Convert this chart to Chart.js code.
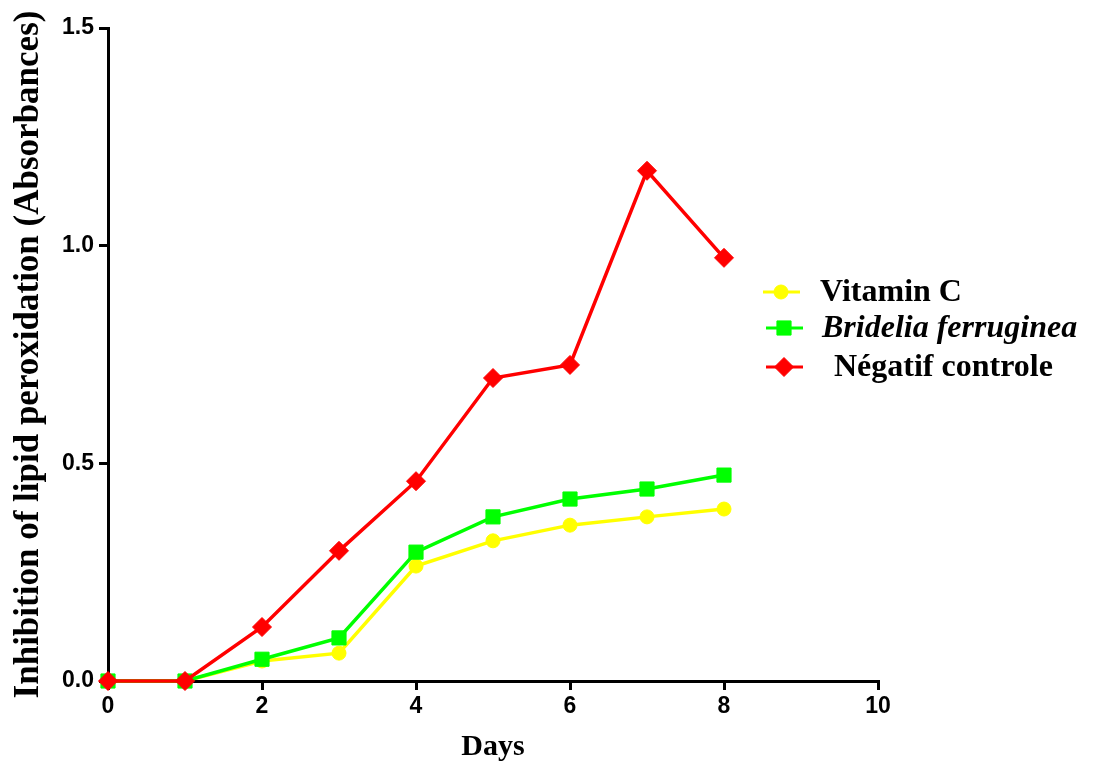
<!DOCTYPE html>
<html>
<head>
<meta charset="utf-8">
<script src="https://cdn.jsdelivr.net/npm/chart.js@4"></script>
<style>
  html, body { margin: 0; padding: 0; background: #fff; }
  #wrap { width: 1100px; height: 765px; }
</style>
</head>
<body>
<div id="wrap"><canvas id="c" width="1100" height="765"></canvas></div>
<script>
const days = [0, 1, 2, 3, 4, 5, 6, 7, 8];
const vitaminC = [0, 0, 0.046, 0.064, 0.264, 0.322, 0.358, 0.377, 0.395];
const bridelia = [0, 0, 0.05, 0.099, 0.296, 0.377, 0.418, 0.441, 0.473];
const negatif = [0, 0, 0.124, 0.299, 0.459, 0.696, 0.726, 1.172, 0.972];
const seriesNames = ['Vitamin C', 'Bridelia ferruginea', ' Négatif controle'];
const xTicks = [0, 2, 4, 6, 8, 10];
const yTicks = [0, 0.5, 1.0, 1.5];

function pts(arr) {
    return arr.map((v, i) => ({ x: days[i], y: v }));
}

// legend drawn by hand, it sits over the right side of the plot
const sideLegend = {
    id: 'sideLegend',
    afterDraw(chart) {
        const ctx = chart.ctx;
        const rows = [
            { y: 292, x0: 763, tx: 820, color: '#FFFF00', style: 'circle', r: 7, font: 'bold 32px "Liberation Serif"' },
            { y: 328, x0: 766, tx: 822, color: '#00FF00', style: 'rect', r: 10, font: 'italic bold 32px "Liberation Serif"' },
            { y: 367, x0: 766, tx: 826, color: '#FF0000', style: 'rectRot', r: 9.5, font: 'bold 32px "Liberation Serif"' }
        ];
        rows.forEach((r, i) => {
            ctx.save();
            ctx.strokeStyle = r.color;
            ctx.lineWidth = 3;
            ctx.beginPath();
            ctx.moveTo(r.x0, r.y);
            ctx.lineTo(r.x0 + 37, r.y);
            ctx.stroke();
            ctx.fillStyle = r.color;
            ctx.lineWidth = 1;
            Chart.helpers.drawPoint(ctx, { pointStyle: r.style, radius: r.r, borderWidth: 1 }, r.x0 + 18, r.y);
            ctx.fillStyle = '#000';
            ctx.font = r.font;
            ctx.textBaseline = 'middle';
            ctx.fillText(seriesNames[i], r.tx, r.y + 1);
            ctx.restore();
        });
    }
};

const tickFont = { family: 'Liberation Sans', weight: 'bold', size: 23 };

new Chart(document.getElementById('c'), {
    type: 'line',
    data: {
        datasets: [
            {
                label: seriesNames[2],
                data: pts(negatif),
                borderColor: '#FF0000',
                backgroundColor: '#FF0000',
                pointStyle: 'rectRot',
                pointRadius: 9.5,
                order: 0
            },
            {
                label: seriesNames[1],
                data: pts(bridelia),
                borderColor: '#00FF00',
                backgroundColor: '#00FF00',
                pointStyle: 'rect',
                pointRadius: 10,
                order: 1
            },
            {
                label: seriesNames[0],
                data: pts(vitaminC),
                borderColor: '#FFFF00',
                backgroundColor: '#FFFF00',
                pointStyle: 'circle',
                pointRadius: 7,
                order: 2
            }
        ]
    },
    options: {
        responsive: false,
        animation: false,
        clip: false,
        elements: {
            line: { borderWidth: 3.5, tension: 0 },
            point: { borderWidth: 1 }
        },
        layout: { padding: { left: 0, right: 222, top: 28, bottom: 0 } },
        plugins: {
            legend: { display: false },
            tooltip: { enabled: false }
        },
        scales: {
            x: {
                type: 'linear',
                min: 0,
                max: 10,
                afterFit(s) { s.height = 84; },
                afterBuildTicks(s) { s.ticks = xTicks.map(v => ({ value: v })); },
                border: { color: '#000', width: 3 },
                grid: { drawOnChartArea: false, color: '#000', tickLength: 9, lineWidth: 3 },
                ticks: {
                    color: '#000',
                    padding: 3,
                    font: tickFont
                },
                title: {
                    display: true,
                    text: 'Days',
                    color: '#000',
                    padding: { top: 6, bottom: 0 },
                    font: { family: 'Liberation Serif', weight: 'bold', size: 30 }
                }
            },
            y: {
                min: 0,
                max: 1.5,
                afterFit(s) { s.width = 108; },
                afterBuildTicks(s) { s.ticks = yTicks.map(v => ({ value: v })); },
                border: { color: '#000', width: 3 },
                grid: { drawOnChartArea: false, color: '#000', tickLength: 9, lineWidth: 3 },
                ticks: {
                    color: '#000',
                    padding: 5,
                    callback: v => v.toFixed(1),
                    font: tickFont
                },
                title: {
                    display: true,
                    text: 'Inhibition of lipid peroxidation (Absorbances)',
                    color: '#000',
                    padding: { top: 8, bottom: 0 },
                    font: { family: 'Liberation Serif', weight: 'bold', size: 35 }
                }
            }
        }
    },
    plugins: [sideLegend]
});
</script>
</body>
</html>
